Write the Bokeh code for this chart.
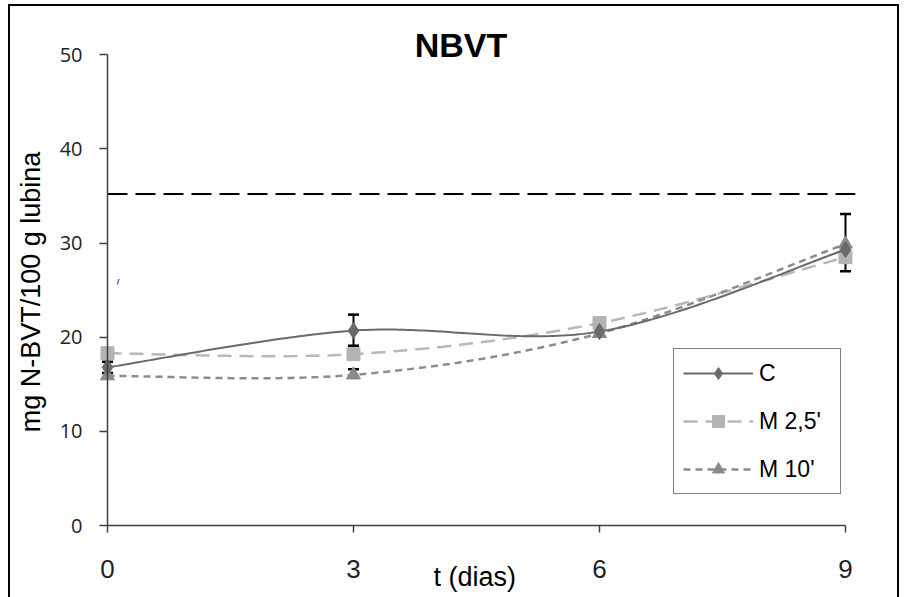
import numpy as np
from bokeh.plotting import figure
from bokeh.models import (ColumnDataSource, Range1d, Whisker, TeeHead, Label,
                          Legend, LegendItem, FixedTicker)
from bokeh.embed import file_html
from bokeh.resources import INLINE

# ---------------- data ----------------
days = [0, 3, 6, 9]
c_vals = [16.8, 20.7, 20.6, 29.3]
m25_vals = [18.3, 18.2, 21.5, 28.5]
m10_vals = [15.9, 16.0, 20.4, 29.9]

# error bars (absolute bounds)
c_err_x = [0, 3, 9]
c_err_lower = [16.2, 19.1, 27.0]
c_err_upper = [17.4, 22.4, 33.1]
m10_err_x = [3]
m10_err_lower = [16.0]
m10_err_upper = [16.6]

limit_value = 35.2
limit_x = [0, 9.12]

x_ticks = [0, 3, 6, 9]
y_ticks = [0, 10, 20, 30, 40, 50]

title_text = "NBVT"
x_title = "t (dias)"
y_title = "mg N-BVT/100 g lubina"
labels = ["C", "M 2,5'", "M 10'"]


def smooth(xs, ys, n=60):
    pts = np.column_stack([np.asarray(xs, float), np.asarray(ys, float)])
    ext = np.vstack([pts[0], pts, pts[-1]])
    out_x, out_y = [], []
    t = np.linspace(0, 1, n)[:, None]
    for i in range(len(pts) - 1):
        p0, p1, p2, p3 = ext[i], ext[i + 1], ext[i + 2], ext[i + 3]
        c1 = p1 + (p2 - p0) / 6.0
        c2 = p2 - (p3 - p1) / 6.0
        b = ((1 - t) ** 3) * p1 + 3 * ((1 - t) ** 2) * t * c1 + 3 * (1 - t) * t ** 2 * c2 + t ** 3 * p2
        if i > 0:
            b = b[1:]
        out_x.extend(b[:, 0])
        out_y.extend(b[:, 1])
    return out_x, out_y


W, H = 904, 597
border_css = {
    "background-color": "white",
    "background-image": "linear-gradient(#000,#000), linear-gradient(#000,#000), linear-gradient(#000,#000)",
    "background-size": "2px 700px, 891px 2px, 2px 700px",
    "background-position": "8px 4px, 8px 4px, 897px 4px",
    "background-repeat": "no-repeat",
}
# frame spans most of the canvas; axes are fixed at x=0 / y=0 inside it
p = figure(width=W, height=H, output_backend="svg", toolbar_location=None,
           x_range=Range1d(-1.1585, 9.305), y_range=Range1d(-7.43, 53),
           min_border_left=12, min_border_right=34, min_border_top=26, min_border_bottom=2,
           styles=border_css)
p.outline_line_color = None
p.grid.visible = False
p.background_fill_color = "white"
p.border_fill_color = None

# axes
p.xaxis.ticker = FixedTicker(ticks=x_ticks)
p.yaxis.ticker = FixedTicker(ticks=y_ticks)
p.xaxis.bounds = (0, 9)
p.yaxis.bounds = (0, 50)
p.xaxis.fixed_location = 0
p.yaxis.fixed_location = 0
for ax in (p.xaxis, p.yaxis):
    ax.axis_line_color = "#404040"
    ax.axis_line_width = 1.5
    ax.major_tick_line_color = "#404040"
    ax.major_tick_line_width = 1.5
    ax.major_tick_in = 0
    ax.minor_tick_line_color = None
    ax.major_label_text_color = "#222222"
p.yaxis.major_label_text_font = "Open Sans"
p.yaxis.major_label_text_font_size = "20px"
p.xaxis.major_label_text_font = "Liberation Sans"
p.xaxis.major_label_text_font_size = "26px"
p.xaxis.major_tick_out = 7
p.xaxis.major_label_standoff = 27
p.yaxis.major_tick_out = 8
p.yaxis.major_label_standoff = 17

# limit line
p.line(limit_x, [limit_value, limit_value], line_color="black", line_width=2, line_dash="20 8")

# error bars
c_err_src = ColumnDataSource(dict(x=c_err_x, lower=c_err_lower, upper=c_err_upper))
p.add_layout(Whisker(source=c_err_src, base="x", lower="lower", upper="upper",
                     line_color="black", line_width=2,
                     upper_head=TeeHead(size=11, line_color="black", line_width=2.5),
                     lower_head=TeeHead(size=11, line_color="black", line_width=2.5)))
m10_err_src = ColumnDataSource(dict(x=m10_err_x, lower=m10_err_lower, upper=m10_err_upper))
p.add_layout(Whisker(source=m10_err_src, base="x", lower="lower", upper="upper",
                     line_color="black", line_width=2,
                     upper_head=TeeHead(size=11, line_color="black", line_width=2.5),
                     lower_head=None))

# series
sx, sy = smooth(days, m25_vals)
m25_line = p.line(sx, sy, line_color="#B8B8B8", line_width=2.5, line_dash="14 8")
m25_mark = p.scatter(days, m25_vals, marker="square", size=13, fill_color="#B3B3B3",
                     line_color="#B3B3B3")

sx, sy = smooth(days, m10_vals)
m10_line = p.line(sx, sy, line_color="#8C8C8C", line_width=2.5, line_dash="7 5")
m10_mark = p.scatter(days, m10_vals, marker="triangle", size=14, fill_color="#8A8A8A",
                     line_color="#8A8A8A")

sx, sy = smooth(days, c_vals)
c_line = p.line(sx, sy, line_color="#6A6A6A", line_width=2)
c_mark = p.scatter(days, c_vals, marker="diamond", size=16, fill_color="#6A6A6A",
                   line_color="#6A6A6A")

# stray blue mark
p.segment([0.12], [25.6], [0.14], [26.2], line_color="#4A7CC8", line_width=1.5)

# titles
p.add_layout(Label(x=4.31, y=51.0, text=title_text, text_font="Liberation Sans",
                   text_font_style="bold", text_font_size="34px", text_align="center",
                   text_baseline="alphabetic", text_color="black"))
p.add_layout(Label(x=4.48, y=-5.45, text=x_title, text_font="Liberation Sans",
                   text_font_size="27px", text_align="center",
                   text_baseline="alphabetic", text_color="black"))
p.add_layout(Label(x=-0.93, y=24.8, text=y_title, angle=np.pi / 2, text_font="Liberation Sans",
                   text_font_size="27px", text_align="center",
                   text_baseline="middle", text_color="black"))

legend = Legend(items=[LegendItem(label=labels[0], renderers=[c_line, c_mark]),
                       LegendItem(label=labels[1], renderers=[m25_line, m25_mark]),
                       LegendItem(label=labels[2], renderers=[m10_line, m10_mark])],
                location=(661, 101), orientation="vertical")
legend.border_line_color = "black"
legend.border_line_width = 1.5
legend.background_fill_color = "white"
legend.background_fill_alpha = 1
legend.label_text_font = "Liberation Sans"
legend.label_text_font_size = "23px"
legend.label_text_color = "black"
legend.glyph_width = 70
legend.glyph_height = 30
legend.label_height = 30
legend.label_width = 72
legend.label_standoff = 6
legend.spacing = 18
legend.padding = 9
legend.margin = 0
p.add_layout(legend, "center")

open("out.html", "w").write(file_html(p, INLINE))
